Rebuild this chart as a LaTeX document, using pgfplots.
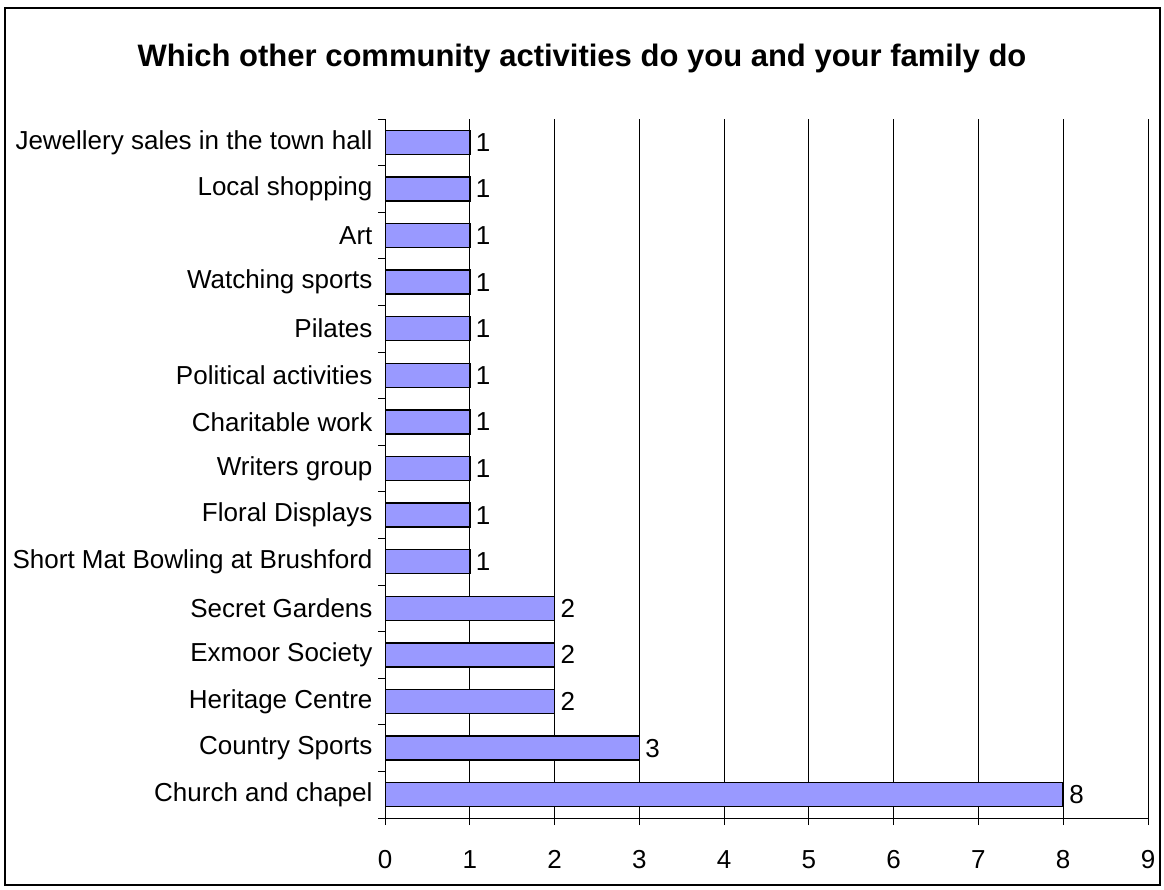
\documentclass[border=0pt]{standalone}
\usepackage{pgfplots}
\pgfplotsset{compat=1.18}
\usepackage{fontspec}
\setmainfont{Liberation Sans}
\definecolor{barfill}{HTML}{9999FF}
\begin{document}
\begin{tikzpicture}[x=1pt,y=1pt]
\path[use as bounding box] (0,0) rectangle (1164,889);
\draw[line width=1.5pt] (5,4) rectangle (1160,881);
\node[font=\fontsize{31}{36}\selectfont\bfseries] at (582,831) {Which other community activities do you and your family do};
\begin{axis}[
  at={(385pt,71pt)}, anchor=south west,
  scale only axis, width=763pt, height=699pt,
  xbar, bar width=24pt,
  xmin=0, xmax=9, ymin=-0.5, ymax=14.5,
  axis x line*=bottom, axis y line*=left,
  axis line style={line width=0.8pt,-},
  xtick={0,...,9},
  ytick={0,...,14},
  yticklabels={Church and chapel,Country Sports,Heritage Centre,Exmoor Society,Secret Gardens,Short Mat Bowling at Brushford,Floral Displays,Writers group,Charitable work,Political activities,Pilates,Watching sports,Art,Local shopping,Jewellery sales in the town hall},
  minor ytick={-0.5,0.5,...,14.5},
  major tick length=7pt, minor tick length=7pt,
  major y tick style={draw=none}, minor y tick style={draw=black, line width=0.8pt},
  x tick style={draw=black, line width=0.8pt},
  tick align=outside,
  xmajorgrids, major grid style={black, line width=0.8pt},
  ticklabel style={font=\fontsize{26}{30}\selectfont},
  xticklabel style={yshift=-22pt},
  yticklabel style={xshift=-2pt},
  /pgf/number format/assume math mode=true,
  nodes near coords,
  every node near coord/.append style={font=\fontsize{26}{30}\selectfont, xshift=2pt},
]
\addplot[fill=barfill, draw=black, line width=1.5pt] coordinates {
(8,0) (3,1) (2,2) (2,3) (2,4) (1,5) (1,6) (1,7) (1,8) (1,9) (1,10) (1,11) (1,12) (1,13) (1,14)};
\end{axis}
\end{tikzpicture}
\end{document}
